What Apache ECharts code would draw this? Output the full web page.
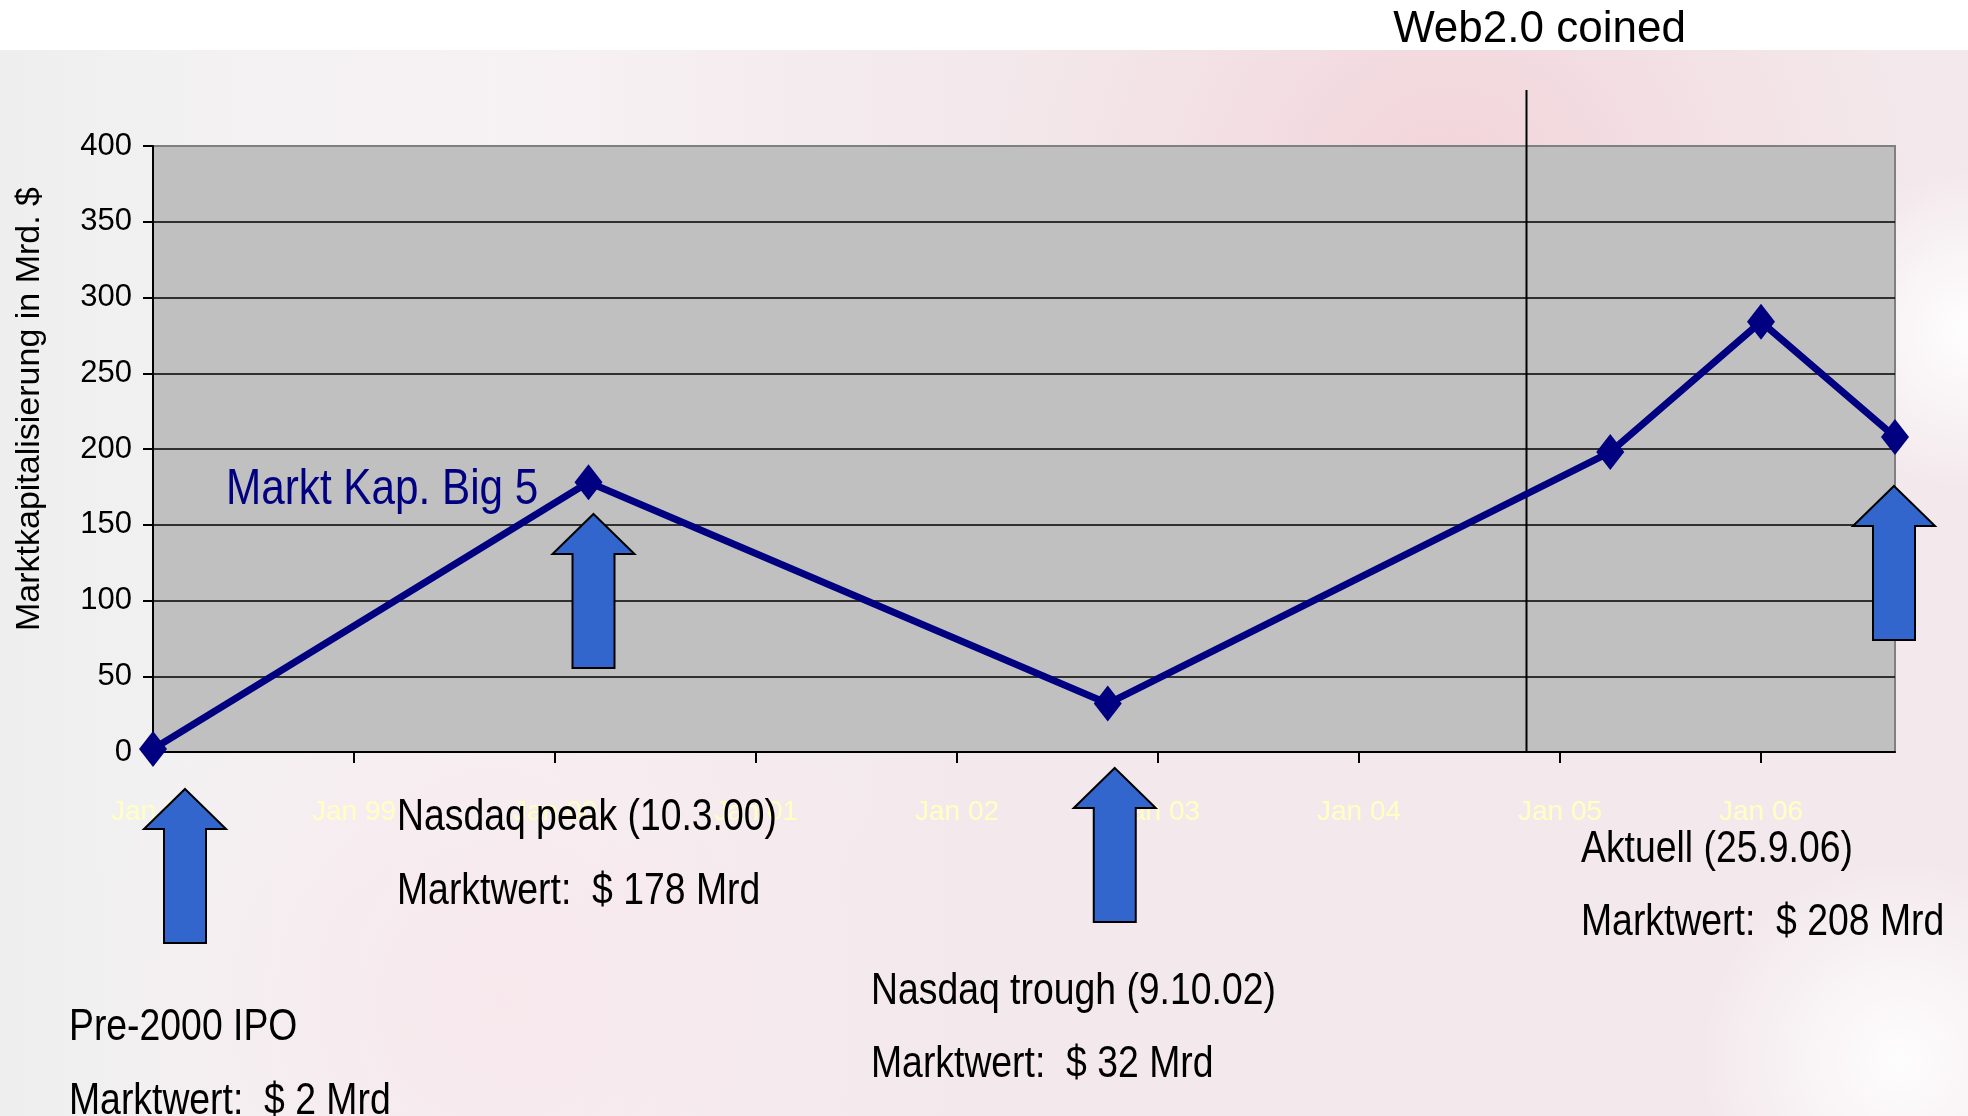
<!DOCTYPE html>
<html>
<head>
<meta charset="utf-8">
<script src="https://cdn.jsdelivr.net/npm/echarts@6/dist/echarts.min.js"></script>
<style>
html,body{margin:0;padding:0;background:#fff;}
#chart{width:1968px;height:1116px;}
</style>
</head>
<body>
<div id="chart"></div>
<script>
// ---- data ----
// x positions in years (month resolution: year + (month-1)/12)
var pointDates = [1998.0, 2000 + 2/12, 2002 + 9/12, 2005 + 3/12, 2006.0, 2006 + 8/12];
var marketCap = [2, 178, 32, 198, 284, 208];
var yTicks = [0, 50, 100, 150, 200, 250, 300, 350, 400];
var xTickYears = [1998, 1999, 2000, 2001, 2002, 2003, 2004, 2005, 2006];
var web20Date = 2004 + 10/12;
var seriesName = 'Markt Kap. Big 5';
var yAxisTitle = 'Marktkapitalisierung in Mrd. $';
var annotations = [
  ['Pre-2000 IPO', 'Marktwert:  $ 2 Mrd'],
  ['Nasdaq peak (10.3.00)', 'Marktwert:  $ 178 Mrd'],
  ['Nasdaq trough (9.10.02)', 'Marktwert:  $ 32 Mrd'],
  ['Aktuell (25.9.06)', 'Marktwert:  $ 208 Mrd']
];
var web20Label = 'Web2.0 coined';

var SANS = "'Liberation Sans', Arial, sans-serif";

var chart = echarts.init(document.getElementById('chart'), null, {renderer: 'canvas'});

function lineData() {
  return pointDates.map(function (d, i) { return [d, marketCap[i]]; });
}

var option = {
  animation: false,
  backgroundColor: 'transparent',
  grid: {
    left: 153, top: 146, right: 73, bottom: 364,
    show: true, backgroundColor: '#C0C0C0', borderColor: '#808080', borderWidth: 2
  },
  xAxis: {
    type: 'value', min: 1998, max: 2006 + 8/12, interval: 1,
    axisLine: {show: true, onZero: false, lineStyle: {color: '#000', width: 2}},
    axisTick: {show: true, length: 11, customValues: xTickYears, lineStyle: {color: '#000', width: 2}},
    axisLabel: {
      customValues: xTickYears, margin: 46,
      color: '#FFFFC4', fontFamily: SANS, fontSize: 28,
      formatter: function (v) { return 'Jan ' + String(Math.round(v)).slice(2); }
    },
    splitLine: {show: false}
  },
  yAxis: {
    type: 'value', min: 0, max: 400, interval: 50,
    name: yAxisTitle, nameLocation: 'middle', nameGap: 106, nameRotate: 90,
    nameTextStyle: {fontFamily: SANS, fontSize: 34, color: '#000', padding: [0, 0, 0, 80]},
    axisLine: {show: true, lineStyle: {color: '#000', width: 2}},
    axisTick: {show: true, length: 10, lineStyle: {color: '#000', width: 2}},
    axisLabel: {
      margin: 21, color: '#000', fontFamily: SANS, fontSize: 31,
      formatter: function (v) { return yTicks.indexOf(v) >= 0 ? String(v) : ''; }
    },
    splitLine: {show: true, lineStyle: {
      color: ['#000','#000','#000','#000','#000','#000','#000','#000','#808080'], width: 1.5}}
  },
  series: [{
    name: seriesName,
    type: 'line',
    data: lineData(),
    symbol: 'diamond',
    symbolSize: [28, 36],
    lineStyle: {color: '#000080', width: 7},
    itemStyle: {color: '#000080'},
    z: 5
  }]
};
chart.setOption(option);

// annotations positioned from the scales
function px(x, y) { return chart.convertToPixel({gridIndex: 0}, [x, y]); }

var g = [];
// background (faded slide image approximation)
g.push({type: 'rect', z: -10, silent: true, shape: {x: 0, y: 50, width: 1968, height: 1066},
  style: {fill: '#F3E9EC'}});
g.push({type: 'rect', z: -9, silent: true, shape: {x: 0, y: 50, width: 1968, height: 1066},
  style: {fill: new echarts.graphic.LinearGradient(0, 0, 1, 0, [
    {offset: 0, color: 'rgba(238,238,238,1)'},
    {offset: 0.08, color: 'rgba(242,242,242,0.9)'},
    {offset: 0.3, color: 'rgba(250,248,249,0.5)'},
    {offset: 0.5, color: 'rgba(245,238,241,0.0)'},
    {offset: 1, color: 'rgba(245,225,230,0)'}])}});
g.push({type: 'circle', z: -8, silent: true, shape: {cx: 1450, cy: 200, r: 500},
  style: {fill: new echarts.graphic.RadialGradient(0.5, 0.5, 0.5, [
    {offset: 0, color: 'rgba(242,205,212,0.8)'},
    {offset: 1, color: 'rgba(242,215,220,0)'}])}});
g.push({type: 'circle', z: -8, silent: true, shape: {cx: 1968, cy: 330, r: 160},
  style: {fill: new echarts.graphic.RadialGradient(0.5, 0.5, 0.5, [
    {offset: 0, color: 'rgba(255,255,255,0.95)'},
    {offset: 1, color: 'rgba(255,255,255,0)'}])}});
g.push({type: 'circle', z: -8, silent: true, shape: {cx: 500, cy: 1000, r: 420},
  style: {fill: new echarts.graphic.RadialGradient(0.5, 0.5, 0.5, [
    {offset: 0, color: 'rgba(248,228,234,0.7)'},
    {offset: 1, color: 'rgba(248,228,234,0)'}])}});
g.push({type: 'circle', z: -8, silent: true, shape: {cx: 1900, cy: 1060, r: 200},
  style: {fill: new echarts.graphic.RadialGradient(0.5, 0.5, 0.5, [
    {offset: 0, color: 'rgba(255,255,255,0.9)'},
    {offset: 1, color: 'rgba(255,255,255,0)'}])}});
g.push({type: 'rect', z: -7, silent: true, shape: {x: 0, y: 0, width: 1968, height: 50},
  style: {fill: '#FFFFFF'}});

// Web 2.0 line
var webTop = px(web20Date, 400);
var webBottom = px(web20Date, 0);
g.push({type: 'line', z: 4, silent: true,
  shape: {x1: webTop[0], y1: 90, x2: webBottom[0], y2: webBottom[1]},
  style: {stroke: '#000', lineWidth: 2}});
g.push({type: 'text', z: 10, silent: true, x: webTop[0] + 13, y: 30,
  style: {text: web20Label, font: '44px ' + SANS, fill: '#000', align: 'center', verticalAlign: 'middle'}});

// series label
g.push({type: 'text', z: 10, silent: true, x: 226, y: 490, scaleX: 0.845,
  style: {text: seriesName, font: '50px ' + SANS, fill: '#000080', align: 'left', verticalAlign: 'middle'}});

// arrows
function arrow(tipX, tipY) {
  var L = 154, hh = 40, hw = 41, sw = 21;
  return {type: 'polygon', z: 8, silent: true,
    shape: {points: [[tipX, tipY], [tipX + hw, tipY + hh], [tipX + sw, tipY + hh], [tipX + sw, tipY + L],
      [tipX - sw, tipY + L], [tipX - sw, tipY + hh], [tipX - hw, tipY + hh]]},
    style: {fill: '#3366CC', stroke: '#000', lineWidth: 2, lineJoin: 'miter'}};
}
var pts = pointDates.map(function (d, i) { return px(d, marketCap[i]); });
g.push(arrow(pts[0][0] + 32, 789));
g.push(arrow(pts[1][0] + 5, 514));
g.push(arrow(pts[2][0] + 7, 768));
g.push(arrow(pts[5][0] - 1, 486));

// annotation texts
var annPos = [[69, 1028, 1102], [397, 818, 892], [871, 992, 1065], [1581, 850, 923]];
annotations.forEach(function (a, i) {
  [0, 1].forEach(function (k) {
    g.push({type: 'text', z: 10, silent: true, x: annPos[i][0], y: annPos[i][k + 1], scaleX: 0.83,
      style: {text: a[k], font: '45px ' + SANS, fill: '#000', align: 'left', verticalAlign: 'middle'}});
  });
});

chart.setOption({graphic: {elements: g}});
</script>
</body>
</html>
